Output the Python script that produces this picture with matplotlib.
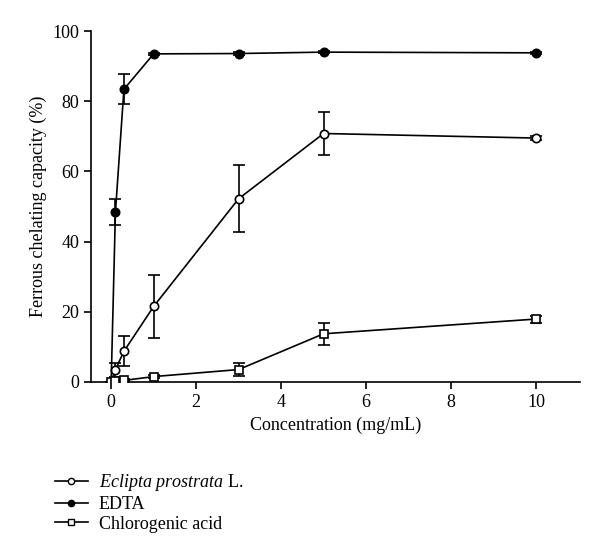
import matplotlib
matplotlib.use("Agg")
import matplotlib.pyplot as plt
from matplotlib.lines import Line2D

conc = [0, 0.1, 0.3, 1, 3, 5, 10]
eclipta = [0, 3.5, 8.7, 21.5, 52.2, 70.8, 69.5]
eclipta_err = [0, 2.0, 4.3, 9.0, 9.6, 6.0, 0.5]
edta = [0, 48.3, 83.4, 93.5, 93.6, 94.0, 93.8]
edta_err = [0, 3.7, 4.3, 0.3, 0.3, 0.3, 0.3]
chloro = [0, 0.3, 0.4, 1.5, 3.5, 13.7, 17.9]
chloro_err = [0, 0.2, 0.3, 0.5, 1.8, 3.2, 1.0]

xticks = [0, 2, 4, 6, 8, 10]
yticks = [0, 20, 40, 60, 80, 100]
labels = [r'$\mathit{Eclipta\ prostrata}$ L.', 'EDTA', 'Chlorogenic acid']

plt.rcParams['font.family'] = ['Liberation Serif', 'DejaVu Serif']
plt.rcParams['mathtext.fontset'] = 'custom'
plt.rcParams['mathtext.rm'] = 'Liberation Serif'
plt.rcParams['mathtext.it'] = 'Liberation Serif:italic'

fig = plt.figure(figsize=(6, 5.55), dpi=100)
ax = fig.add_axes([0.152, 0.312, 0.815, 0.632])

common = dict(color='black', lw=1.2, elinewidth=1.2, capsize=4, capthick=1.2, markeredgewidth=1.2)
ax.errorbar(conc, eclipta, yerr=eclipta_err, marker='o', mfc='white', mec='black', markersize=6, zorder=3, **common)
ax.errorbar(conc, edta, yerr=edta_err, marker='o', mfc='black', mec='black', markersize=6, zorder=3, **common)
ax.errorbar(conc, chloro, yerr=chloro_err, marker='s', mfc='white', mec='black', markersize=5.5, zorder=3, **common)

ax.set_xlim(-0.47, 11.04)
ax.set_ylim(0, 100)
ax.set_xticks(xticks)
ax.set_yticks(yticks)
ax.spines['top'].set_visible(False)
ax.spines['right'].set_visible(False)
ax.spines['left'].set_linewidth(1.2)
ax.spines['bottom'].set_linewidth(1.2)
ax.tick_params(direction='out', length=5, width=1.2, labelsize=13)
ax.set_xlabel('Concentration (mg/mL)', fontsize=13)
ax.set_ylabel('Ferrous chelating capacity (%)', fontsize=13)

handles = [Line2D([], [], color='black', lw=1.2, marker='o', mfc='white', mec='black', markersize=4.5),
           Line2D([], [], color='black', lw=1.2, marker='o', mfc='black', mec='black', markersize=4.5),
           Line2D([], [], color='black', lw=1.2, marker='s', mfc='white', mec='black', markersize=4.5)]
fig.legend(handles, labels, loc='upper left', bbox_to_anchor=(0.08, 0.162), frameon=False,
           fontsize=13, handlelength=1.8, handletextpad=0.6, labelspacing=0.15, borderaxespad=0)

fig.savefig('out.png', dpi=100)
